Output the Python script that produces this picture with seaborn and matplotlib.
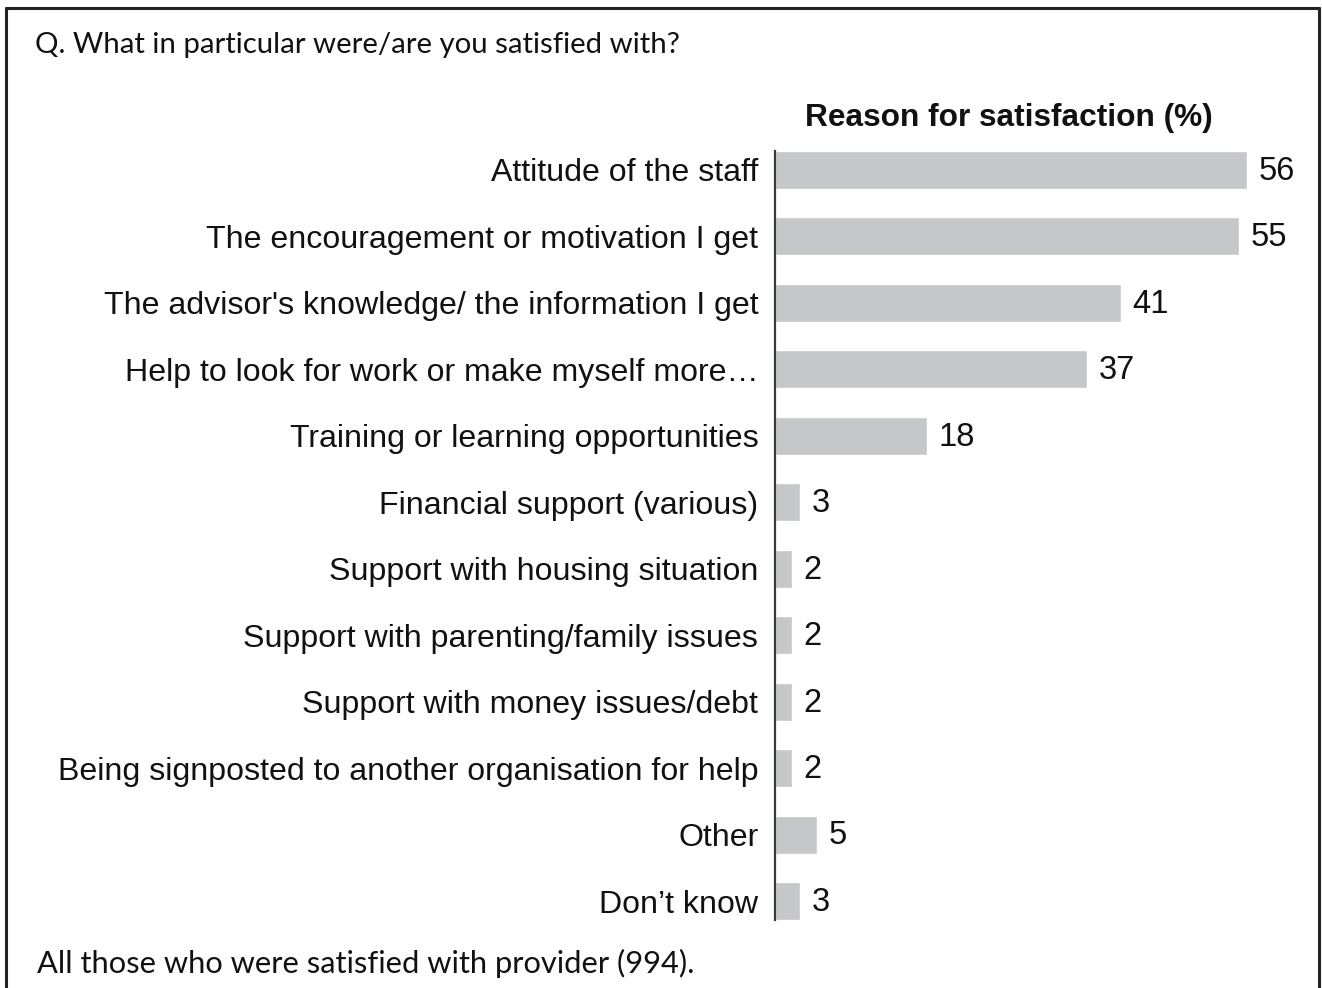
import matplotlib
matplotlib.use("Agg")
import matplotlib.pyplot as plt
from matplotlib.lines import Line2D
import seaborn as sns
import pandas as pd

categories = [
    "Attitude of the staff",
    "The encouragement or motivation I get",
    "The advisor's knowledge/ the information I get",
    "Help to look for work or make myself more\u2026",
    "Training or learning opportunities",
    "Financial support (various)",
    "Support with housing situation",
    "Support with parenting/family issues",
    "Support with money issues/debt",
    "Being signposted to another organisation for help",
    "Other",
    "Don\u2019t know",
]
values = [56, 55, 41, 37, 18, 3, 2, 2, 2, 2, 5, 3]

chart_title = "Reason for satisfaction (%)"
question = "Q. What in particular were/are you satisfied with?"
base_note = "All those who were satisfied with provider (994)."

df = pd.DataFrame({"reason": categories, "pct": values})

sns.set_theme(style="white")
plt.rcParams["font.family"] = ["Liberation Sans", "DejaVu Sans"]

W, H = 1322, 988
fig = plt.figure(figsize=(W / 100, H / 100), dpi=100)

# axes placed in pixel terms
x0, x1 = 775, 1300
y_top, y_bot = 151, 920
ax = fig.add_axes([x0 / W, 1 - y_bot / H, (x1 - x0) / W, (y_bot - y_top) / H])

bar_w = 0.57
sns.barplot(data=df, y="reason", x="pct", orient="h", color="#C6C7C9",
            width=bar_w, saturation=1, ax=ax)

ax.set_xlim(0, (x1 - x0) / 8.43)
ax.set_ylim(len(categories) - 1 + bar_w / 2, -bar_w / 2)
ax.set_xlabel("")
ax.set_ylabel("")
ax.set_xticks([])
for s in ["top", "right", "bottom"]:
    ax.spines[s].set_visible(False)
ax.spines["left"].set_color("#3a3a3a")
ax.spines["left"].set_linewidth(1.6)
ax.tick_params(axis="y", length=0, pad=12, labelsize=23.1, labelcolor="#111111")

for i, v in enumerate(values):
    ax.annotate(f"{v}", xy=(v, i), xytext=(8.5, -1), textcoords="offset points",
                ha="left", va="center", fontsize=23.5, color="#111111")

fig.text(1009 / W, 1 - 118 / H, chart_title, ha="center", va="center",
         fontsize=22.8, fontweight="bold", color="#111111")

fig.text(35 / W, 1 - 45 / H, question, ha="left", va="center",
         fontsize=21.2, family=["Lato", "DejaVu Sans"], color="#111111")
fig.text(37 / W, 1 - 963 / H, base_note, ha="left", va="center",
         fontsize=22.2, family=["Lato", "DejaVu Sans"], color="#111111")

# frame around the panel (open at the bottom edge)
lw = 2.2
for xs, ys in [([6 / W, 6 / W], [0, 1 - 8 / H]),
               ([6 / W, 1319 / W], [1 - 8 / H, 1 - 8 / H]),
               ([1319 / W, 1319 / W], [1 - 8 / H, 0])]:
    fig.add_artist(Line2D(xs, ys, transform=fig.transFigure, color="#222222", lw=lw))

fig.savefig("out.png", dpi=100, facecolor="white")
